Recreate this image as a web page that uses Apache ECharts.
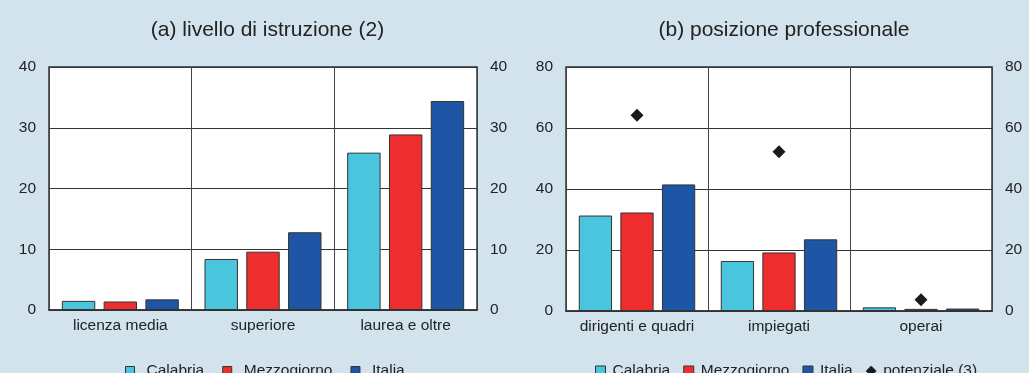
<!DOCTYPE html>
<html>
<head>
<meta charset="utf-8">
<script src="https://cdn.jsdelivr.net/npm/echarts@6/dist/echarts.min.js"></script>
<style>
html,body{margin:0;padding:0;background:#D2E3EE;}
#c{width:1029px;height:373px;}
</style>
</head>
<body>
<div id="c"></div>
<script>
// Data
const titleA = '(a) livello di istruzione (2)';
const titleB = '(b) posizione professionale';
const catA = ['licenza media', 'superiore', 'laurea e oltre'];
const catB = ['dirigenti e quadri', 'impiegati', 'operai'];
const calabriaA = [1.5, 8.4, 25.9];
const mezzogiornoA = [1.4, 9.6, 28.9];
const italiaA = [1.75, 12.8, 34.4];
const calabriaB = [31.3, 16.4, 1.2];
const mezzogiornoB = [32.3, 19.2, 0.7];
const italiaB = [41.5, 23.5, 0.8];
const potenzialeB = [64.2, 52.2, 3.7];
const seriesNames = ['Calabria', 'Mezzogiorno', 'Italia', 'potenziale (3)'];

const colors = ['#49C5DE', '#EE2E2E', '#1F55A5'];
const txt = '#222';
const FS = 15.5;
const lineC = '#333';
const FF = 'Liberation Sans, Arial, sans-serif';

function yAx(gi, pos, max, interval) {
  return {
    type: 'value', gridIndex: gi, position: pos, min: 0, max: max, interval: interval,
    axisLine: {show: false}, axisTick: {show: false},
    axisLabel: {color: txt, fontSize: FS, margin: 13, fontFamily: FF},
    splitLine: {show: pos === 'left', lineStyle: {color: lineC, width: 1}}
  };
}
function xAx(gi, data) {
  return {
    type: 'category', gridIndex: gi, data: data,
    axisLine: {show: true, lineStyle: {color: lineC, width: 1.5}},
    axisTick: {show: false, interval: 0},
    axisLabel: {color: txt, fontSize: FS, margin: 8, fontFamily: FF, interval: 0},
    splitLine: {show: true, interval: 0, lineStyle: {color: '#444', width: 1}}
  };
}
function bar(name, data, xi, yi, ci) {
  return {
    name: name, type: 'bar', xAxisIndex: xi, yAxisIndex: yi, data: data,
    barGap: '25%', barCategoryGap: '18%',
    itemStyle: {color: colors[ci], borderColor: '#333', borderWidth: 1}
  };
}

const chart = echarts.init(document.getElementById('c'));
chart.setOption({
  backgroundColor: '#D2E3EE',
  animation: false,
  title: [
    {text: titleA, left: 262.5, top: 15, textAlign: 'center',
     textStyle: {color: txt, fontSize: 21, fontWeight: 'normal', fontFamily: FF}},
    {text: titleB, left: 779, top: 15, textAlign: 'center',
     textStyle: {color: txt, fontSize: 21, fontWeight: 'normal', fontFamily: FF}}
  ],
  legend: [
    {data: seriesNames.slice(0, 3).map(n => ({name: n, icon: 'rect'})), left: 120, top: 358,
     itemWidth: 9, itemHeight: 9, itemGap: 18,
     textStyle: {color: txt, fontSize: FS, padding: [0, 0, 0, 7], fontFamily: FF},
     itemStyle: {borderColor: '#333', borderWidth: 1}},
    {data: seriesNames.map((n, i) => ({name: n, icon: i === 3 ? 'diamond' : 'rect'})), left: 590, top: 358,
     itemWidth: 10, itemHeight: 10, itemGap: 13,
     textStyle: {color: txt, fontSize: FS, padding: [0, 0, 0, 2], fontFamily: FF},
     itemStyle: {borderColor: '#333', borderWidth: 1}}
  ],
  grid: [
    {left: 49, right: 552, top: 67, bottom: 63, show: true, backgroundColor: '#fff', borderColor: lineC, borderWidth: 1.5, containLabel: false},
    {left: 566, right: 37, top: 67, bottom: 62, show: true, backgroundColor: '#fff', borderColor: lineC, borderWidth: 1.5, containLabel: false}
  ],
  xAxis: [xAx(0, catA), xAx(1, catB)],
  yAxis: [yAx(0, 'left', 40, 10), yAx(0, 'right', 40, 10), yAx(1, 'left', 80, 20), yAx(1, 'right', 80, 20)],
  series: [
    bar('Calabria', calabriaA, 0, 0, 0),
    bar('Mezzogiorno', mezzogiornoA, 0, 0, 1),
    bar('Italia', italiaA, 0, 0, 2),
    bar('Calabria', calabriaB, 1, 2, 0),
    bar('Mezzogiorno', mezzogiornoB, 1, 2, 1),
    bar('Italia', italiaB, 1, 2, 2),
    {name: 'potenziale (3)', type: 'scatter', xAxisIndex: 1, yAxisIndex: 2, data: potenzialeB,
     symbol: 'diamond', symbolSize: 13, itemStyle: {color: '#1a1a1a', opacity: 1}, z: 5}
  ]
});
</script>
</body>
</html>
